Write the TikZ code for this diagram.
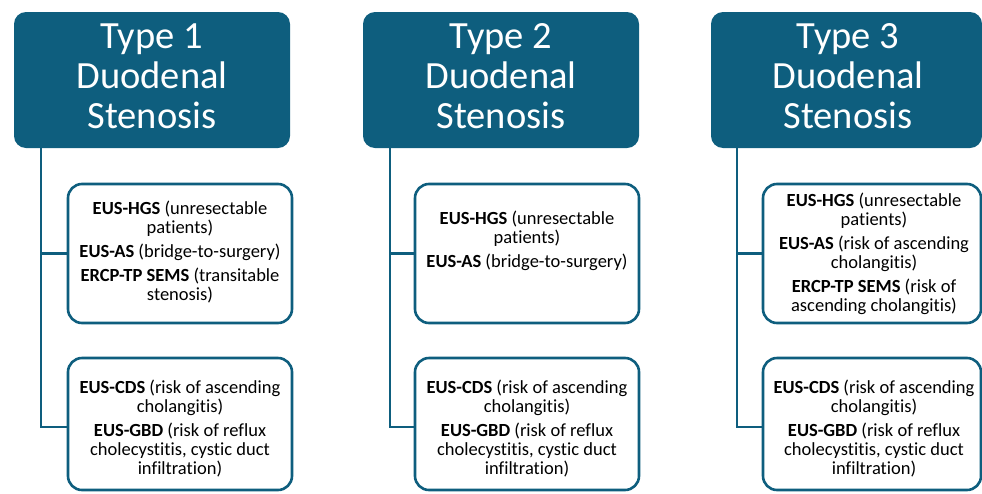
\documentclass[tikz,border=0pt]{standalone}
\usepackage{fontspec}
\setmainfont[Ligatures=NoCommon]{Carlito}
\definecolor{tealA}{HTML}{0E5E7E}
\begin{document}
\begin{tikzpicture}[x=1pt,y=-1pt,
  hdr/.style={fill=tealA, draw=none, rounded corners=12pt, inner sep=0pt, outer sep=0pt, anchor=north west, minimum height=136pt},
  opt/.style={draw=tealA, line width=2.6pt, rounded corners=14pt, fill=white, inner sep=0pt, outer sep=0pt, anchor=north west},
  htxt/.style={text=white, font=\fontsize{38.5}{40}\selectfont, align=flush center, text width=270pt, inner sep=0pt, anchor=base},
  btxt/.style={font=\fontsize{18.5}{19}\selectfont, align=flush center, text width=224pt, inner sep=0pt, anchor=base},
  conn/.style={draw=tealA, line width=2.6pt}]
\useasboundingbox (0,0) rectangle (982,493);
% headers
\node[hdr, minimum width=276pt] (h1) at (14,12) {};
\node[hdr, minimum width=276pt] (h2) at (363,12) {};
\node[hdr, minimum width=271pt] (h3) at (711,12) {};
\node[htxt] (h1t) at (152,48) {Type 1\\Duodenal\\Stenosis};
\node[htxt] (h2t) at (501,48) {Type 2\\Duodenal\\Stenosis};
\node[htxt] (h3t) at (848,48) {Type 3\\Duodenal\\Stenosis};
% trunks
\coordinate (t1) at ([xshift=27pt]h1.south west);
\coordinate (t2) at ([xshift=27pt]h2.south west);
\coordinate (t3) at ([xshift=26pt]h3.south west);
% option boxes
\node[opt, minimum width=224pt, minimum height=139pt] (b1a) at (68,184) {};
\node[opt, minimum width=224pt, minimum height=139pt] (b2a) at (415,184) {};
\node[opt, minimum width=218pt, minimum height=139pt] (b3a) at (763,184) {};
\node[opt, minimum width=224pt, minimum height=132pt] (b1b) at (68,358) {};
\node[opt, minimum width=224pt, minimum height=132pt] (b2b) at (415,358) {};
\node[opt, minimum width=218pt, minimum height=132pt] (b3b) at (763,358) {};
% connectors
\foreach \t/\a/\b in {t1/b1a/b1b, t2/b2a/b2b, t3/b3a/b3b}{
  \draw[conn] (\t) |- ([yshift=-3pt]\b.west);
  \draw[conn] (\t |- \a.west) -- (\a.west);
}
% texts
\node[btxt] (b1at) at (180,214) {\textbf{EUS-HGS} (unresectable\\ patients)\\[5pt] \textbf{EUS-AS} (bridge-to-surgery)\\[5pt] \textbf{ERCP-TP SEMS} (transitable\\ stenosis)};
\node[btxt] (b2at) at (527,224) {\textbf{EUS-HGS} (unresectable\\ patients)\\[5pt] \textbf{EUS-AS} (bridge-to-surgery)};
\node[btxt] (b3at) at (874,206) {\textbf{EUS-HGS} (unresectable\\ patients)\\[5pt] \textbf{EUS-AS} (risk of ascending\\ cholangitis)\\[5pt] \textbf{ERCP-TP SEMS} (risk of\\ ascending cholangitis)};
\node[btxt] (b1bt) at (180,393) {\textbf{EUS-CDS} (risk of ascending\\ cholangitis)\\[5pt] \textbf{EUS-GBD} (risk of reflux\\ cholecystitis, cystic duct\\ infiltration)};
\node[btxt] (b2bt) at (527,393) {\textbf{EUS-CDS} (risk of ascending\\ cholangitis)\\[5pt] \textbf{EUS-GBD} (risk of reflux\\ cholecystitis, cystic duct\\ infiltration)};
\node[btxt] (b3bt) at (874,393) {\textbf{EUS-CDS} (risk of ascending\\ cholangitis)\\[5pt] \textbf{EUS-GBD} (risk of reflux\\ cholecystitis, cystic duct\\ infiltration)};
\end{tikzpicture}
\end{document}
